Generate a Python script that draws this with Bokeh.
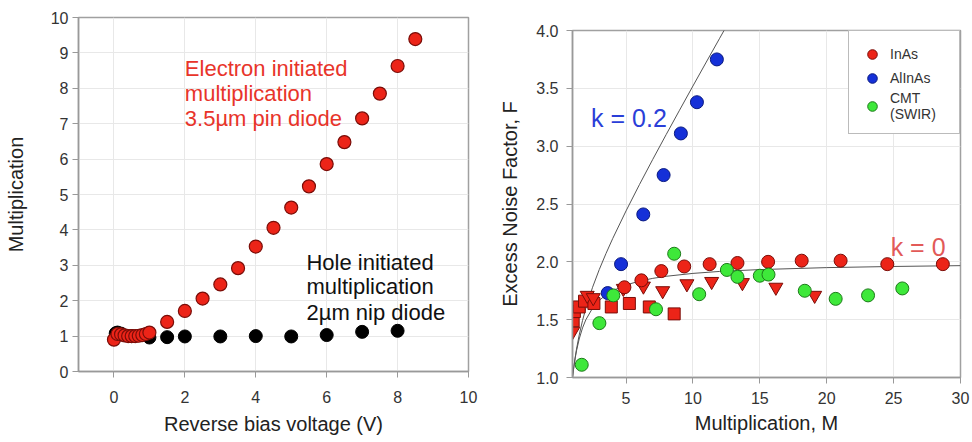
from bokeh.plotting import figure
from bokeh.layouts import row, column
from bokeh.models import Range1d, FixedTicker, Label, Legend, LegendItem, NumeralTickFormatter
from bokeh.embed import file_html
from bokeh.resources import INLINE

FONT = "Liberation Sans"

# ---------------- left panel data ----------------
elec_v = [0.0, 0.1, 0.2, 0.3, 0.4, 0.5, 0.6, 0.7, 0.8, 0.9, 1.0, 1.5, 2.0, 2.5, 3.0,
          3.5, 4.0, 4.5, 5.0, 5.5, 6.0, 6.5, 7.0, 7.5, 8.0, 8.5]
elec_m = [0.90, 1.06, 1.05, 1.02, 1.00, 1.00, 1.00, 1.01, 1.03, 1.06, 1.10, 1.40, 1.71,
          2.06, 2.46, 2.92, 3.53, 4.06, 4.63, 5.23, 5.86, 6.48, 7.15, 7.85, 8.63, 9.39]
hole_v = [0.05, 0.1, 0.2, 0.5, 1.0, 1.5, 2.0, 3.0, 4.0, 5.0, 6.0, 7.0, 8.0]
hole_m = [1.08, 1.10, 1.07, 1.00, 0.96, 0.97, 0.99, 0.99, 1.00, 0.99, 1.03, 1.12, 1.15]
left_xticks = [0, 2, 4, 6, 8, 10]
left_yticks = [0, 1, 2, 3, 4, 5, 6, 7, 8, 9, 10]
elec_text = ["Electron initiated", "multiplication", "3.5\u00b5m pin diode"]
hole_text = ["Hole initiated", "multiplication", "2\u00b5m nip diode"]

# ---------------- right panel data ----------------
inas_circ_m = [4.88, 6.15, 7.64, 9.35, 11.25, 13.33, 15.62, 18.13, 21.04, 24.53, 28.68]
inas_circ_f = [1.78, 1.84, 1.92, 1.96, 1.98, 1.99, 2.00, 2.01, 2.01, 1.98, 1.98]
inas_tri_m = [1.02, 2.1, 2.55, 4.8, 6.3, 7.74, 9.55, 11.4, 13.7, 16.2, 19.1]
inas_tri_f = [1.40, 1.71, 1.69, 1.77, 1.79, 1.75, 1.81, 1.83, 1.82, 1.78, 1.71]
inas_sq_m = [1.05, 1.14, 1.5, 1.9, 2.6, 3.9, 5.25, 6.74, 8.6]
inas_sq_f = [1.49, 1.57, 1.61, 1.66, 1.64, 1.61, 1.64, 1.61, 1.55]
alinas_m = [3.63, 4.63, 6.29, 7.81, 9.10, 10.3, 11.79]
alinas_f = [1.73, 1.98, 2.41, 2.75, 3.11, 3.38, 3.75]
cmt_m = [1.69, 3.01, 4.05, 7.24, 8.6, 10.47, 12.54, 13.33, 15.0, 15.65, 18.36, 20.67, 23.09, 25.65]
cmt_f = [1.11, 1.47, 1.71, 1.59, 2.07, 1.72, 1.93, 1.87, 1.88, 1.89, 1.75, 1.68, 1.71, 1.77]
k02_m = [1.0, 1.05, 1.1, 1.2, 1.3, 1.5, 1.75, 2.0, 2.5, 3.0, 3.5, 4.0, 5.0, 6.0, 7.0, 8.0,
         9.0, 10.0, 11.0, 12.0, 12.35]
k02_f = [1.0, 1.048, 1.093, 1.173, 1.245, 1.367, 1.493, 1.6, 1.78, 1.933, 2.071, 2.2, 2.44,
         2.667, 2.886, 3.1, 3.311, 3.52, 3.727, 3.933, 4.005]
k0_m = [1.0, 1.05, 1.1, 1.2, 1.3, 1.5, 1.75, 2.0, 2.5, 3.0, 3.5, 4.0, 5.0, 6.0, 7.0, 8.0,
        10.0, 12.0, 15.0, 20.0, 25.0, 30.0]
k0_f = [1.0, 1.048, 1.091, 1.167, 1.231, 1.333, 1.429, 1.5, 1.6, 1.667, 1.714, 1.75, 1.8,
        1.833, 1.857, 1.875, 1.9, 1.917, 1.933, 1.95, 1.96, 1.967]
right_xticks = [5, 10, 15, 20, 25, 30]
right_yticks = [1.0, 1.5, 2.0, 2.5, 3.0, 3.5, 4.0]
legend_labels = ["InAs", "AlInAs", "CMT\n(SWIR)"]

RED = "#ec2418"
RED_EDGE = "#7a0d08"


def style(p, xticks, yticks):
    p.xaxis.ticker = FixedTicker(ticks=xticks)
    p.yaxis.ticker = FixedTicker(ticks=yticks)
    p.xgrid.ticker = FixedTicker(ticks=xticks)
    p.ygrid.ticker = FixedTicker(ticks=yticks)
    for ax in (p.xaxis[0], p.yaxis[0]):
        ax.axis_line_color = "#999999"
        ax.axis_line_width = 1.5
        ax.major_tick_line_color = "#999999"
        ax.minor_tick_line_color = None
        ax.major_tick_in = 0
        ax.major_tick_out = 6
        ax.major_label_text_font = FONT
        ax.major_label_text_font_size = "16px"
        ax.major_label_text_color = "#333333"
        ax.axis_label_text_font = FONT
        ax.axis_label_text_font_size = "20px"
        ax.axis_label_text_font_style = "normal"
        ax.axis_label_text_color = "#222222"
    p.grid.grid_line_color = "#e8e8e8"
    p.outline_line_color = "#a0a0a0"
    p.outline_line_width = 1.5
    p.background_fill_color = "white"
    p.border_fill_color = "white"


# ---------------- left figure ----------------
p1 = figure(width=480, height=437, x_range=Range1d(-1, 10), y_range=Range1d(0, 10),
            output_backend="svg", toolbar_location=None, title=None,
            min_border_left=78, min_border_right=12, min_border_top=17, min_border_bottom=64)
style(p1, left_xticks, left_yticks)
p1.xaxis.axis_label = "Reverse bias voltage (V)"
p1.yaxis.axis_label = "Multiplication"
p1.xaxis.major_label_standoff = 13
p1.xaxis.axis_label_standoff = 7
p1.yaxis.major_label_standoff = 4
p1.yaxis.axis_label_standoff = 21

p1.scatter(hole_v, hole_m, marker="circle", size=13, fill_color="black", line_color="black")
p1.scatter(elec_v, elec_m, marker="circle", size=13, fill_color=RED, line_color=RED_EDGE,
           line_width=1.2)

for txt, yy in zip(elec_text, [8.56, 7.86, 7.15]):
    p1.add_layout(Label(x=2.0, y=yy, text=txt, text_font=FONT, text_font_size="22px",
                        text_color="#e8342a", text_baseline="alphabetic"))
for txt, yy in zip(hole_text, [3.08, 2.41, 1.68]):
    p1.add_layout(Label(x=5.43, y=yy, text=txt, text_font=FONT, text_font_size="22px",
                        text_color="#111111", text_baseline="alphabetic"))

# ---------------- right figure ----------------
p2 = figure(width=490, height=436, x_range=Range1d(1, 30), y_range=Range1d(1, 4),
            output_backend="svg", toolbar_location=None, title=None,
            min_border_left=92, min_border_right=10, min_border_top=30, min_border_bottom=56)
style(p2, right_xticks, right_yticks)
p2.yaxis.formatter = NumeralTickFormatter(format="0.0")
p2.xaxis.axis_label = "Multiplication, M"
p2.yaxis.axis_label = "Excess Noise Factor, F"
p2.xaxis.major_label_standoff = 8
p2.xaxis.axis_label_standoff = 5
p2.yaxis.major_label_standoff = 8
p2.yaxis.axis_label_standoff = 12

p2.line(k02_m, k02_f, line_color="#555555", line_width=1)
p2.line(k0_m, k0_f, line_color="#555555", line_width=1)

p2.scatter(inas_sq_m, inas_sq_f, marker="square", size=12, fill_color=RED, line_color=RED_EDGE)
p2.scatter(inas_tri_m, inas_tri_f, marker="inverted_triangle", size=14, fill_color=RED,
           line_color=RED_EDGE)
r_inas = p2.scatter(inas_circ_m, inas_circ_f, marker="circle", size=13, fill_color=RED,
                    line_color=RED_EDGE)
r_al = p2.scatter(alinas_m, alinas_f, marker="circle", size=13, fill_color="#1530d8",
                  line_color="#0a1a80")
r_cmt = p2.scatter(cmt_m, cmt_f, marker="circle", size=13, fill_color="#3ee83a",
                   line_color="#1d7a1a")

p2.add_layout(Label(x=2.39, y=3.24, text="k = 0.2", text_font=FONT, text_font_size="25px",
                    text_color="#2a3ed8", text_baseline="middle"))
p2.add_layout(Label(x=24.78, y=2.13, text="k = 0", text_font=FONT, text_font_size="25px",
                    text_color="#e25a58", text_baseline="middle"))

legend = Legend(items=[LegendItem(label=lab, renderers=[r])
                       for lab, r in zip(legend_labels, [r_inas, r_al, r_cmt])],
                location="top_right", margin=0, padding=11, spacing=0,
                glyph_width=24, glyph_height=24, label_standoff=6, label_width=58,
                label_text_font=FONT, label_text_font_size="14px",
                label_text_color="#333333", border_line_color="#777777",
                background_fill_color="white", background_fill_alpha=1.0)
p2.add_layout(legend)

layout = row(column(p1), column(p2))
open("out.html", "w").write(file_html(layout, INLINE))
